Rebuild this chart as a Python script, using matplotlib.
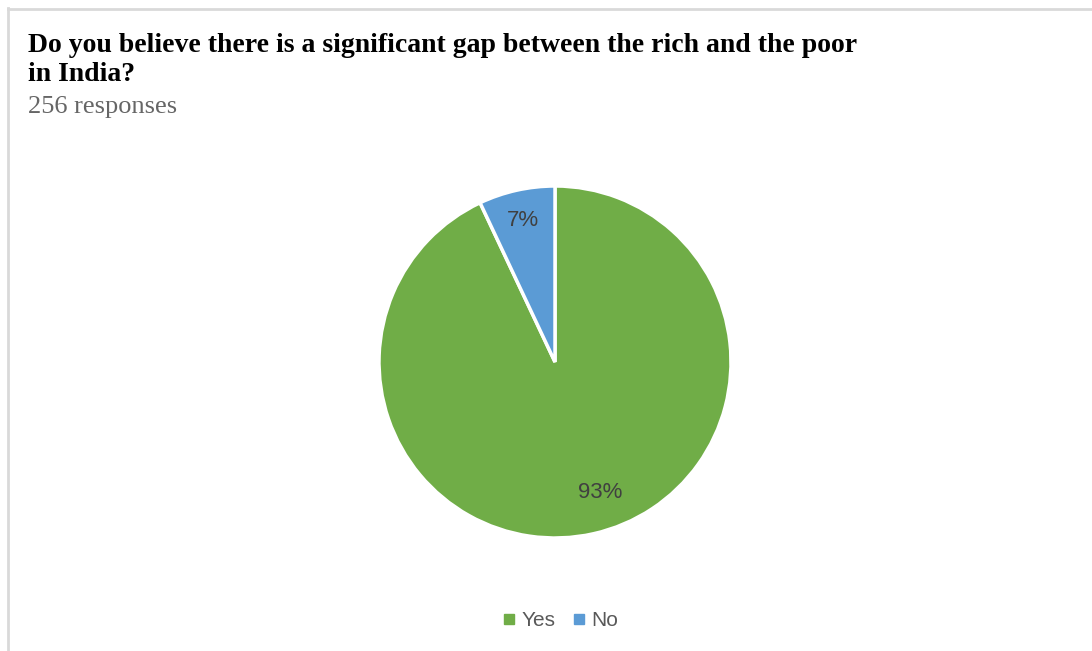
import matplotlib.pyplot as plt
from matplotlib.lines import Line2D

categories = ['Yes', 'No']
shares = [93, 7]
colors = ['#70AD47', '#5B9BD5']

title_lines = ['Do you believe there is a significant gap between the rich and the poor',
               'in India?']
subtitle = '256 responses'

narrow = ['Liberation Sans Narrow', 'Liberation Sans', 'DejaVu Sans']
serif = ['Liberation Serif', 'DejaVu Serif']

W, H = 1092, 651
fig = plt.figure(figsize=(W / 100, H / 100), dpi=100)

# light frame along the top and left edge
fig.add_artist(Line2D([8 / W, 8 / W], [0, 1 - 8 / H], color='#d9d9d9', lw=2))
fig.add_artist(Line2D([8 / W, 1], [1 - 8.5 / H, 1 - 8.5 / H], color='#d9d9d9', lw=2))

for line, base in zip(title_lines, [52, 81]):
    fig.text(28 / W, 1 - base / H, line, family=serif, fontsize=20, fontweight='bold',
             color='black', ha='left', va='baseline')
fig.text(28 / W, 1 - 113 / H, subtitle, family=serif, fontsize=19,
         color='#666666', ha='left', va='baseline')

# pie: centre (555, 362), radius 176 px
r = 176
ax = fig.add_axes([(555 - r) / W, 1 - (362 + r) / H, 2 * r / W, 2 * r / H])
wedges, texts = ax.pie(shares, colors=colors, startangle=90, counterclock=False,
                       wedgeprops=dict(edgecolor='white', linewidth=2.5))
ax.set_aspect('auto')
ax.set_xlim(-1, 1)
ax.set_ylim(-1, 1)

label_pos = [(600, 493), (523, 220)]
for share, (px, py) in zip(shares, label_pos):
    fig.text(px / W, 1 - py / H, f'{share}%', family=narrow, fontsize=16,
             color='#404040', ha='center', va='center')

handles = [Line2D([], [], marker='s', ls='', color=c, markersize=6.5) for c in colors]
fig.legend(handles, categories, loc='center', bbox_to_anchor=(561 / W, 1 - 621 / H),
           ncol=2, frameon=False, handletextpad=0.35, columnspacing=0.85,
           prop=dict(family=narrow, size=15), labelcolor='#595959', handlelength=0.5)

fig.savefig('out.png', dpi=100)
